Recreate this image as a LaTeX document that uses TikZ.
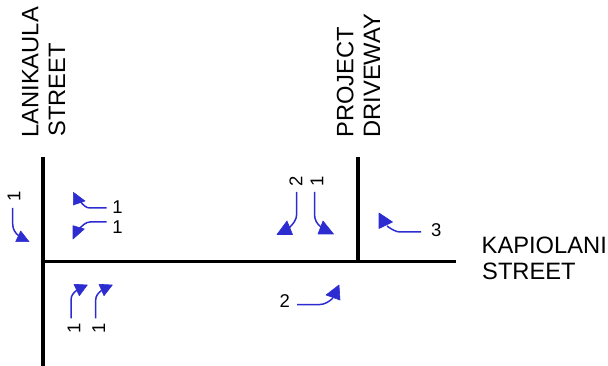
\documentclass[tikz,border=0pt]{standalone}
\usepackage{fontspec}
\setmainfont{Liberation Sans}
\definecolor{arrowblue}{RGB}{44,44,208}
\tikzset{
  road/.style={line width=3.2pt,black},
  turn/.style={line width=1.5pt,arrowblue},
  head/.style={fill=arrowblue,draw=arrowblue,line width=0.6pt,line join=round},
  lab/.style={inner sep=0pt,font=\fontsize{18.5}{18.5}\selectfont},
  streetname/.style={inner sep=0pt,font=\fontsize{23.7}{23.7}\selectfont,anchor=base west},
  vname/.style={streetname,rotate=90}
}
\begin{document}
\begin{tikzpicture}[x=1pt,y=-1pt]
\useasboundingbox (0,0) rectangle (608,366);
% roads
\coordinate (lt) at (43,157); \coordinate (lb) at (43,366);
\coordinate (hl) at (43,261.5); \coordinate (hr) at (456,261.5);
\coordinate (dt) at (358,157); \coordinate (db) at (358,261.5);
\draw[road] (lt) -- (lb);
\draw[road] (hl) -- (hr);
\draw[road] (dt) -- (db);
% street names
\node[vname] (n1) at (38.3,137.7) {LANIKAULA};
\node[vname] (n2) at (65,137) {STREET};
\node[vname] (n3) at (353.3,137.8) {PROJECT};
\node[vname] (n4) at (380,137.8) {DRIVEWAY};
\node[streetname] (n5) at (481.5,253.3) {KAPIOLANI};
\node[streetname] (n6) at (482,279.3) {STREET};
% left approach
\draw[turn] (12.7,208) -- (12.7,224) .. controls (12.7,229) and (15,233) .. (19,236);
\draw[head] (20.7,231) -- (15.7,241.7) -- (29,241.7) -- cycle;
\node[lab,rotate=90] (a) at (14,196) {1};
% lanikaula east side
\draw[turn] (106.7,208) -- (90,208) .. controls (86,208) and (83,205) .. (80,201);
\draw[head] (73.3,192.3) -- (73.3,205) -- (85,201) -- cycle;
\node[lab] (b) at (117.5,206.7) {1};
\draw[turn] (106.7,222) -- (90,222) .. controls (86,222) and (83,225) .. (79,229);
\draw[head] (73,225.7) -- (73,239) -- (84.3,229) -- cycle;
\node[lab] (c) at (117.5,227.5) {1};
% bottom pair
\draw[turn] (71,318.3) -- (71,300) .. controls (71,296) and (73,293) .. (77,290);
\draw[head] (74,284.3) -- (87.3,285) -- (79.3,295.7) -- cycle;
\node[lab,rotate=90] (d) at (74,328) {1};
\draw[turn] (95.7,318.3) -- (95.7,300) .. controls (95.7,296) and (98,293) .. (102,290);
\draw[head] (99,284.3) -- (112.3,285) -- (104,295.7) -- cycle;
\node[lab,rotate=90] (e) at (98.7,328) {1};
% driveway approach
\draw[turn] (296.7,192) -- (296.7,214) .. controls (296.7,220) and (293,224) .. (289,228);
\draw[head] (277,234.5) -- (292.5,234.5) -- (287,221) -- cycle;
\node[lab,rotate=90] (f) at (296,181.5) {2};
\draw[turn] (314.5,192) -- (314.5,214) .. controls (314.5,220) and (317,224) .. (321,227);
\draw[head] (318,234) -- (333.5,234) -- (323,221) -- cycle;
\node[lab,rotate=90] (g) at (317,181) {1};
% east approach
\draw[turn] (421,232) -- (400,232) .. controls (396,232) and (391,229) .. (387,226);
\draw[head] (379,213) -- (379,228.5) -- (392.5,222) -- cycle;
\node[lab] (h) at (436.3,230.3) {3};
% west through
\draw[turn] (297,304.5) -- (320,304.5) .. controls (324,304.5) and (329,302) .. (333,298);
\draw[head] (339,285) -- (326,295) -- (340,300) -- cycle;
\node[lab] (i) at (284.7,301.5) {2};
\end{tikzpicture}
\end{document}
